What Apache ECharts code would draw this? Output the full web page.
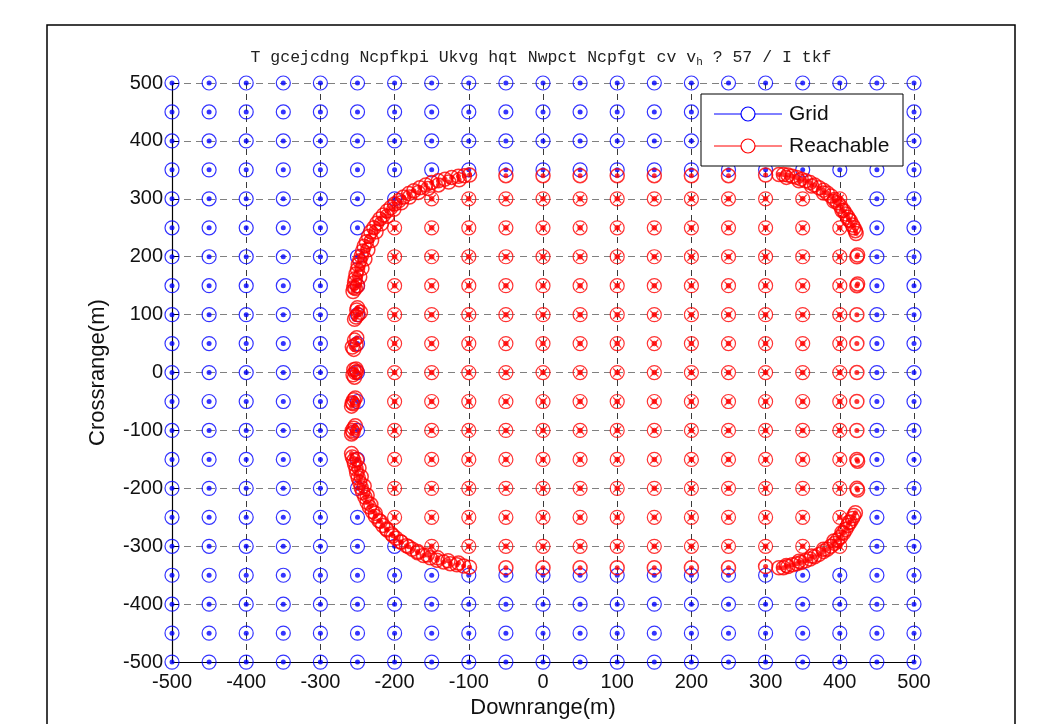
<!DOCTYPE html>
<html>
<head>
<meta charset="utf-8">
<script src="https://cdn.jsdelivr.net/npm/echarts@6/dist/echarts.min.js"></script>
<style>
  html, body { margin: 0; padding: 0; background: #ffffff; }
  #chart { width: 1037px; height: 724px; }
</style>
</head>
<body>
<div id="chart"></div>
<script>
// Candidate landing grid (m), 50 m spacing in both directions
const gridX = [-500, -450, -400, -350, -300, -250, -200, -150, -100, -50, 0,
               50, 100, 150, 200, 250, 300, 350, 400, 450, 500];
const gridY = [-500, -450, -400, -350, -300, -250, -200, -150, -100, -50, 0,
               50, 100, 150, 200, 250, 300, 350, 400, 450, 500];

// Reachable grid points, row by row: crossrange value and downrange extent
const reachRowY    = [300, 250, 200, 150, 100, 50, 0, -50, -100, -150, -200, -250, -300];
const reachRowFrom = [-150, -200, -200, -200, -200, -200, -200, -200, -200, -200, -200, -200, -150];
const reachRowTo   = [400, 400, 400, 400, 400, 400, 400, 400, 400, 400, 400, 400, 400];

// Boundary of the reachable set: downrange / crossrange pairs (m)
const edgeLeftTop = [
  [-256, 140], [-255, 147], [-254, 155], [-253, 162], [-252, 170], [-250, 178], [-249, 186],
  [-247, 193], [-245, 201], [-243, 210], [-241, 218], [-238, 226], [-235, 235], [-232, 243],
  [-228, 250], [-224, 258], [-220, 265], [-215, 272], [-210, 279], [-205, 285], [-200, 291],
  [-194, 297], [-188, 303], [-181, 309], [-174, 314], [-166, 319], [-158, 324], [-150, 328],
  [-141, 331], [-132, 334], [-123, 337], [-114, 339], [-106, 340], [-99, 341],
  [-250, 150], [-247, 165], [-244, 180], [-240, 196], [-236, 212], [-231, 228], [-225, 243],
  [-218, 257], [-210, 270], [-201, 282], [-191, 293], [-180, 303], [-168, 311], [-155, 318],
  [-141, 324], [-127, 329], [-113, 333]
];
const edgeLeftSide = [
  [-253, 145], [-252, 96], [-249, 100], [-246, 104], [-251, 108], [-254, 92], [-250, 112],
  [-255, 40], [-252, 48], [-254, 56], [-257, 44], [-251, 60],
  [-256, -4], [-253, 0], [-255, 5], [-251, 2], [-254, -8], [-252, 6],
  [-257, -52], [-255, -47], [-256, -54], [-253, -44], [-258, -58],
  [-257, -100], [-255, -96], [-256, -103], [-253, -92], [-258, -106]
];
const edgeLeftBottom = [
  [-258, -140], [-257, -146], [-255, -152], [-254, -158], [-252, -166], [-251, -174],
  [-249, -182], [-247, -190], [-245, -199], [-243, -207], [-240, -215], [-237, -224],
  [-234, -232], [-230, -240], [-226, -248], [-221, -256], [-216, -264], [-210, -272],
  [-204, -279], [-198, -286], [-191, -293], [-184, -299], [-176, -305], [-169, -311],
  [-161, -316], [-152, -320], [-143, -324], [-134, -327], [-125, -330], [-116, -332],
  [-107, -334], [-99, -336],
  [-251, -150], [-248, -165], [-245, -180], [-241, -196], [-237, -212], [-232, -228],
  [-226, -243], [-219, -257], [-211, -270], [-202, -282], [-192, -292], [-181, -301],
  [-169, -309], [-156, -315], [-142, -320], [-128, -325], [-114, -329]
];
const edgeTop = [
  [-50, 340], [0, 340], [50, 340], [100, 340], [150, 340], [200, 340], [250, 340], [300, 341]
];
const edgeBottom = [
  [-50, -337], [0, -337], [50, -337], [100, -337], [150, -337], [200, -337], [250, -337], [300, -335]
];
const edgeRightTop = [
  [318, 342], [324, 342], [330, 341], [336, 339], [342, 337], [348, 334], [354, 331],
  [360, 328], [366, 324], [372, 319], [378, 315], [383, 310], [388, 305], [393, 299],
  [397, 293], [401, 287], [405, 280], [408, 274], [411, 268], [414, 262], [417, 255],
  [419, 250], [421, 245], [422, 240],
  [328, 337], [345, 331], [362, 322], [378, 310], [392, 296], [403, 280], [412, 264]
];
const edgeRightBottom = [
  [318, -337], [324, -337], [330, -335], [336, -332], [342, -330], [348, -328], [354, -325],
  [360, -322], [366, -318], [372, -314], [378, -309], [383, -305], [388, -300], [393, -295],
  [397, -289], [401, -284], [405, -277], [408, -271], [411, -264], [414, -258], [417, -252],
  [419, -247], [421, -242],
  [328, -333], [345, -326], [362, -317], [378, -305], [392, -291], [403, -276], [412, -259]
];
const edgeRightSide = [
  [423, 200], [424, 203], [423, 150], [424, 153], [423, 100], [423, 50], [423, 0],
  [423, -50], [423, -100], [423, -150], [424, -153], [423, -200], [424, -203]
];

const axisTicks = [-500, -400, -300, -200, -100, 0, 100, 200, 300, 400, 500];

// Build point lists
const reachPoints = [];
reachRowY.forEach((y, i) => {
  gridX.forEach(x => {
    if (x >= reachRowFrom[i] && x <= reachRowTo[i]) reachPoints.push([x, y]);
  });
});
const reachKey = new Set(reachPoints.map(p => p[0] + ',' + p[1]));

// grid nodes not covered by a reachable marker
const gridPoints = [];
gridY.forEach(y => gridX.forEach(x => {
  if (!reachKey.has(x + ',' + y)) gridPoints.push([x, y]);
}));

const edgePoints = [].concat(edgeLeftTop, edgeLeftSide, edgeLeftBottom, edgeTop,
  edgeBottom, edgeRightTop, edgeRightBottom, edgeRightSide);

const BLUE = '#0000ff';
const RED = '#ff0000';
const SANS = '"Liberation Sans", Arial, Helvetica, sans-serif';
const CROSS = 'path://M0,1L1,0L5,4L9,0L10,1L6,5L10,9L9,10L5,6L1,10L0,9L4,5Z';

function ring(name, data, color, size, width) {
  return {
    name, type: 'scatter', data, symbol: 'circle', symbolSize: size, clip: false,
    itemStyle: { color: 'rgba(0,0,0,0)', borderColor: color, borderWidth: width || 1.2 },
    emphasis: { disabled: true }, silent: true, animation: false
  };
}
function dot(name, data, color, size, symbol) {
  return {
    name, type: 'scatter', data, symbol: symbol || 'circle', symbolSize: size, clip: false,
    itemStyle: { color: color, borderWidth: 0 },
    emphasis: { disabled: true }, silent: true, animation: false
  };
}

const chart = echarts.init(document.getElementById('chart'), null, { renderer: 'canvas' });

const tickFmt = v => (axisTicks.indexOf(v) >= 0 ? String(v) : '');

chart.setOption({
  backgroundColor: '#ffffff',
  animation: false,
  grid: { left: 172, top: 83, width: 742, height: 584, containLabel: false },
  xAxis: {
    type: 'value', min: -500, max: 500, interval: 100,
    name: 'Downrange(m)', nameLocation: 'middle', nameGap: 32,
    nameTextStyle: { fontFamily: SANS, fontSize: 22, color: '#111' },
    axisLine: { show: true, onZero: false, lineStyle: { color: '#000', width: 1.2 } },
    axisTick: { show: true, inside: true, length: 7, lineStyle: { color: '#000', width: 1 } },
    axisLabel: { fontFamily: SANS, fontSize: 20, color: '#111', margin: 10, formatter: tickFmt },
    splitLine: { show: true, lineStyle: { color: '#3a3a3a', width: 1, type: [6, 5] } }
  },
  yAxis: {
    type: 'value', min: -500, max: 500, interval: 100,
    name: 'Crossrange(m)', nameLocation: 'middle', nameGap: 63, nameRotate: 90,
    nameTextStyle: { fontFamily: SANS, fontSize: 22, color: '#111' },
    axisLine: { show: true, onZero: false, lineStyle: { color: '#000', width: 1.2 } },
    axisTick: { show: true, inside: true, length: 7, lineStyle: { color: '#000', width: 1 } },
    axisLabel: { fontFamily: SANS, fontSize: 20, color: '#111', margin: 9, formatter: tickFmt },
    splitLine: { show: true, lineStyle: { color: '#808080', width: 1, type: [7, 5] } }
  },
  series: [
    ring('Grid', gridPoints, BLUE, 14),
    dot('Grid centre', gridPoints, BLUE, 5),
    ring('Reachable', reachPoints, RED, 14),
    dot('Reachable cross', reachPoints, RED, 9, CROSS),
    dot('Reachable centre', reachPoints, RED, 5.5),
    ring('Reachable boundary', edgePoints, RED, 14, 1.5),
    dot('Reachable boundary centre', edgePoints, RED, 5)
  ],
  graphic: [
    // outer figure frame
    {
      type: 'rect', z: 1, silent: true,
      shape: { x: 47, y: 25, width: 968, height: 740 },
      style: { fill: 'none', stroke: '#000', lineWidth: 1.5 }
    },
    // title
    {
      type: 'text', z: 50, silent: true, x: 541, y: 58,
      style: {
        text: 'T gcejcdng Ncpfkpi Ukvg hqt Nwpct Ncpfgt cv v{s|h} ? 57 / I tkf',
        align: 'center', verticalAlign: 'middle',
        fontFamily: '"Liberation Mono", "DejaVu Sans Mono", monospace',
        fontSize: 16.5, fill: '#222',
        rich: { s: { fontSize: 11, fontFamily: '"Liberation Mono", monospace', fill: '#222', padding: [8, 0, 0, 0] } }
      }
    },
    // legend box
    { type: 'rect', z: 100, zlevel: 1, silent: true,
      shape: { x: 701, y: 94, width: 202, height: 72 },
      style: { fill: '#fff', stroke: '#000', lineWidth: 1 } },
    { type: 'line', z: 101, zlevel: 1, silent: true,
      shape: { x1: 714, y1: 114, x2: 782, y2: 114 },
      style: { stroke: BLUE, lineWidth: 1 } },
    { type: 'circle', z: 102, zlevel: 1, silent: true,
      shape: { cx: 748, cy: 114, r: 7 },
      style: { fill: '#fff', stroke: BLUE, lineWidth: 1.2 } },
    { type: 'text', z: 102, zlevel: 1, silent: true, x: 789, y: 114,
      style: { text: 'Grid', fontFamily: SANS, fontSize: 21, fill: '#111', verticalAlign: 'middle' } },
    { type: 'line', z: 101, zlevel: 1, silent: true,
      shape: { x1: 714, y1: 146, x2: 782, y2: 146 },
      style: { stroke: RED, lineWidth: 1 } },
    { type: 'circle', z: 102, zlevel: 1, silent: true,
      shape: { cx: 748, cy: 146, r: 7 },
      style: { fill: '#fff', stroke: RED, lineWidth: 1.2 } },
    { type: 'text', z: 102, zlevel: 1, silent: true, x: 789, y: 146,
      style: { text: 'Reachable', fontFamily: SANS, fontSize: 21, fill: '#111', verticalAlign: 'middle' } }
  ]
});
</script>
</body>
</html>
